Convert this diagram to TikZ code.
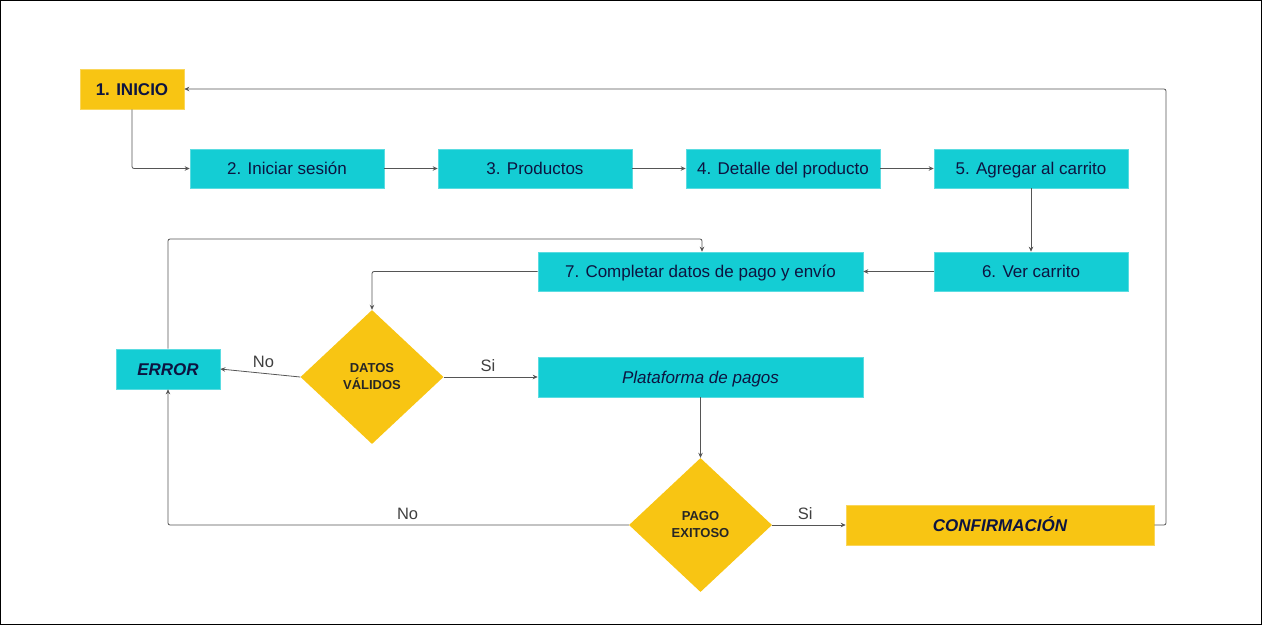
\documentclass[tikz,border=0pt]{standalone}
\usepackage{fontspec}
\setmainfont{Liberation Sans}
\usetikzlibrary{shapes.geometric,arrows.meta}
\definecolor{ylw}{HTML}{F8C513}
\definecolor{cyn}{HTML}{14CDD4}
\definecolor{navy}{HTML}{0D1440}
\definecolor{lgray}{HTML}{555555}
\tikzset{
  box/.style={rectangle, fill=cyn, draw=cyn!70!white, line width=0.6pt, minimum height=39pt, inner sep=0pt, text height=15.2pt, text depth=3pt, text=navy, font=\fontsize{17}{19}\selectfont},
  ybox/.style={box, fill=ylw, draw=ylw!70!white},
  dec/.style={diamond, fill=ylw, draw=none, minimum width=143pt, minimum height=134pt, aspect=1.07, inner sep=0pt, text=black!85, align=center, font=\fontsize{13}{17}\selectfont\bfseries},
  conn/.style={draw=lgray, line width=0.8pt, rounded corners=2pt, -{Stealth[length=5pt,width=4.5pt]}},
  lbl/.style={text=black!75, font=\fontsize{16.5}{18}\selectfont}
}
\begin{document}
\begin{tikzpicture}[x=1pt,y=-1pt]
\draw[black, line width=1pt] (0.5,0.5) rectangle (1261.5,624.5);
\useasboundingbox (0,0) rectangle (1262,625);
% nodes
\node[ybox, minimum width=104pt, font=\fontsize{17}{19}\selectfont\bfseries, minimum height=40pt] (inicio) at (132,89) {1. INICIO};
\node[box, minimum width=194pt] (sesion) at (287,168.5) {2. Iniciar sesión};
\node[box, minimum width=194pt] (prod) at (535,168.5) {3. Productos};
\node[box, minimum width=194pt] (det) at (783,168.5) {4. Detalle del producto};
\node[box, minimum width=194pt] (agr) at (1031,168.5) {5. Agregar al carrito};
\node[box, minimum width=194pt] (ver) at (1031,271.5) {6. Ver carrito};
\node[box, minimum width=325pt] (comp) at (700.5,271.5) {7. Completar datos de pago y envío};
\node[box, minimum width=104pt, minimum height=40pt, font=\fontsize{17}{19}\selectfont\bfseries\itshape] (error) at (168,369) {ERROR};
\node[dec] (datos) at (372,377) {DATOS\\VÁLIDOS};
\node[box, minimum width=325pt, minimum height=40pt, font=\fontsize{17}{19}\selectfont\itshape] (plat) at (700.5,377) {Plataforma de pagos};
\node[dec] (pago) at (700.5,525) {PAGO\\EXITOSO};
\node[ybox, minimum width=308pt, minimum height=40pt, font=\fontsize{17}{19}\selectfont\bfseries\itshape] (conf) at (1000,525) {CONFIRMACIÓN};
% helper coordinates
\coordinate (cR) at (1166,525);
\coordinate (cT) at (1166,89);
\coordinate (eT) at (168,239);
\coordinate (eR) at (702,239);
% connectors
\draw[conn] (inicio.south) |- (sesion.west);
\draw[conn] (sesion) -- (prod);
\draw[conn] (prod) -- (det);
\draw[conn] (det) -- (agr);
\draw[conn] (agr) -- (ver);
\draw[conn] (ver) -- (comp);
\draw[conn] (comp.west) -| (datos.north);
\draw[conn] (datos.west) -- node[lbl, above=2pt, pos=0.46] {No} (error.east);
\draw[conn] (datos.east) -- node[lbl, above=2pt, pos=0.47] {Si} (plat.west);
\draw[conn] (plat) -- (pago);
\draw[conn] (pago.west) -| node[lbl, above=2pt, pos=0.24] {No} (error.south);
\draw[conn] (pago.east) -- node[lbl, above=2pt, pos=0.45] {Si} (conf.west);
\draw[conn] (conf.east) -- (cR) -- (cT) -- (inicio.east);
\draw[conn] (error.north) -- (eT) -- (eR) -- (comp.north -| eR);
\end{tikzpicture}
\end{document}
